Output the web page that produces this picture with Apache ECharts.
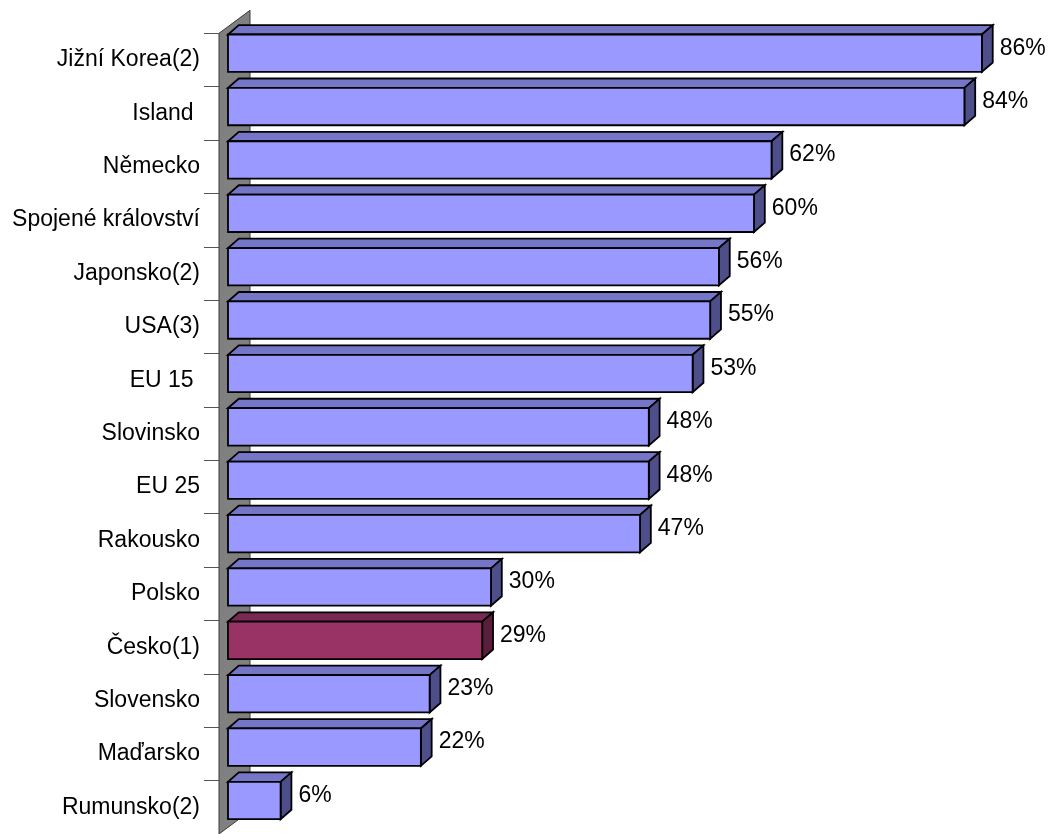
<!DOCTYPE html>
<html>
<head>
<meta charset="utf-8">
<script src="https://cdn.jsdelivr.net/npm/echarts@6/dist/echarts.min.js"></script>
<style>
  html, body { margin: 0; padding: 0; background: #ffffff; }
  #chart { width: 1049px; height: 834px; }
</style>
</head>
<body>
<div id="chart"></div>
<script>
// Categories, top to bottom
const categories = [
  'Jižní Korea(2)', 'Island ', 'Německo', 'Spojené království', 'Japonsko(2)',
  'USA(3)', 'EU 15 ', 'Slovinsko', 'EU 25', 'Rakousko',
  'Polsko', 'Česko(1)', 'Slovensko', 'Maďarsko', 'Rumunsko(2)'
];
// Share in percent
const values = [86, 84, 62, 60, 56, 55, 53, 48, 48, 47, 30, 29, 23, 22, 6];
// Category drawn in the accent colour
const highlighted = ['Česko(1)'];

const FONT = '"Liberation Sans", Arial, sans-serif';

// Face colours of the 3-D blocks
const PALETTE = {
  normal: { front: '#9999FF', top: '#7676C9', side: '#4E4E8A', label: '#000000' },
  accent: { front: '#993366', top: '#7A2952', side: '#5A1E3C', label: '#000000' }
};

// Oblique projection: bars sit a little behind the wall's front edge
const FRONT_SHIFT = [9, -6.8];
const DEPTH = [10.8, -9.4];
const WALL_DEPTH = [31, -23];

function renderBar(params, api) {
  const v = api.value(0);
  const idx = api.value(1);
  const base = api.coord([0, idx]);
  const end = api.coord([v, idx]);
  const band = api.size([0, 1])[1];
  const h = band * 0.70;
  const x0 = base[0] + FRONT_SHIFT[0];
  const x1 = end[0] + FRONT_SHIFT[0];
  const yc = base[1] + FRONT_SHIFT[1];
  const y0 = yc - h / 2;
  const y1 = yc + h / 2;
  const dx = DEPTH[0], dy = DEPTH[1];
  const c = highlighted.indexOf(categories[idx]) >= 0 ? PALETTE.accent : PALETTE.normal;
  const stroke = { stroke: '#000000', lineWidth: 1.8, lineJoin: 'miter' };
  return {
    type: 'group',
    children: [
      {
        type: 'polygon',
        shape: { points: [[x0, y0], [x1, y0], [x1 + dx, y0 + dy], [x0 + dx, y0 + dy]] },
        style: Object.assign({ fill: c.top }, stroke)
      },
      {
        type: 'polygon',
        shape: { points: [[x1, y0], [x1 + dx, y0 + dy], [x1 + dx, y1 + dy], [x1, y1]] },
        style: Object.assign({ fill: c.side }, stroke)
      },
      {
        type: 'rect',
        shape: { x: x0, y: y0, width: x1 - x0, height: h },
        style: Object.assign({ fill: c.front }, stroke)
      },
      {
        type: 'text',
        style: {
          x: x1 + dx + 7,
          y: yc - 5,
          text: v + '%',
          fill: c.label,
          font: '23px ' + FONT,
          textAlign: 'left',
          textVerticalAlign: 'middle'
        }
      }
    ]
  };
}

function renderWall(params, api) {
  const cs = params.coordSys;
  const x = cs.x, y = cs.y, h = cs.height;
  const wx = WALL_DEPTH[0], wy = WALL_DEPTH[1];
  return {
    type: 'polygon',
    shape: { points: [[x, y], [x + wx, y + wy], [x + wx, y + h + wy], [x, y + h]] },
    style: { fill: '#808080', stroke: '#3a3a3a', lineWidth: 1 }
  };
}

const chart = echarts.init(document.getElementById('chart'), null, { renderer: 'canvas' });

chart.setOption({
  animation: false,
  backgroundColor: '#ffffff',
  grid: { left: 219, top: 33.3, width: 789, height: 803.6 },
  xAxis: {
    type: 'value', min: 0, max: 90, show: false
  },
  yAxis: {
    type: 'category',
    data: categories,
    inverse: true,
    axisLine: { show: false },
    axisTick: { show: true, length: 15, lineStyle: { color: '#555555', width: 1 } },
    axisLabel: {
      margin: 19, fontSize: 23, color: '#000000', fontFamily: FONT,
      padding: [7, 0, 0, 0]
    },
    splitLine: { show: false }
  },
  series: [
    {
      type: 'custom',
      name: 'wall',
      silent: true,
      z: 1,
      clip: false,
      data: [[0, 0]],
      encode: { x: 0, y: 1 },
      renderItem: renderWall
    },
    {
      type: 'custom',
      name: 'podíl',
      z: 2,
      clip: false,
      data: values.map((v, i) => [v, i]),
      encode: { x: 0, y: 1 },
      renderItem: renderBar
    }
  ]
});
</script>
</body>
</html>
